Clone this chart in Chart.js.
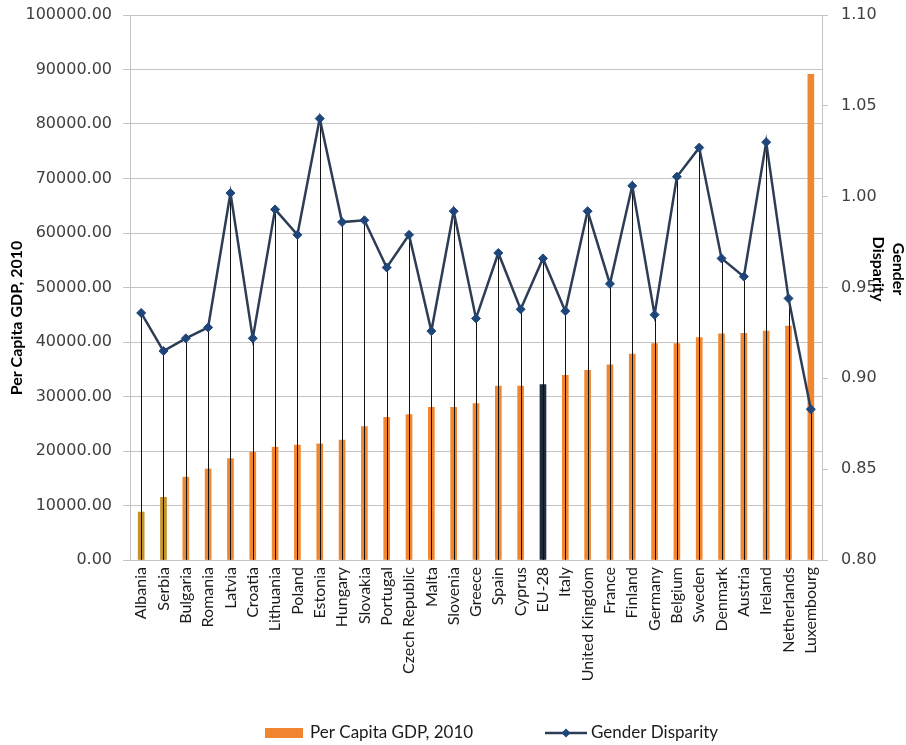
<!DOCTYPE html>
<html>
<head>
<meta charset="utf-8">
<script src="https://cdn.jsdelivr.net/npm/chart.js@4"></script>
<style>
  html, body { margin: 0; padding: 0; background: #ffffff; }
  #wrap { width: 906px; height: 745px; }
</style>
</head>
<body>
<div id="wrap"><canvas id="c" width="906" height="745"></canvas></div>
<script>
// Countries ordered by per capita GDP, 2010
const categories = [
  'Albania', 'Serbia', 'Bulgaria', 'Romania', 'Latvia', 'Croatia', 'Lithuania',
  'Poland', 'Estonia', 'Hungary', 'Slovakia', 'Portugal', 'Czech Republic', 'Malta',
  'Slovenia', 'Greece', 'Spain', 'Cyprus', 'EU-28', 'Italy', 'United Kingdom',
  'France', 'Finland', 'Germany', 'Belgium', 'Sweden', 'Denmark', 'Austria',
  'Ireland', 'Netherlands', 'Luxembourg'
];

// Per capita GDP, 2010 (left axis)
const gdpPerCapita = [
  8800, 11500, 15200, 16700, 18600, 19800, 20700,
  21100, 21300, 22000, 24500, 26200, 26700, 28000,
  28000, 28700, 31900, 31900, 32200, 33900, 34800,
  35800, 37800, 39700, 39700, 40800, 41500, 41600,
  42000, 42900, 89100
];

// Gender disparity index (right axis)
const genderDisparity = [
  0.936, 0.915, 0.922, 0.928, 1.002, 0.922, 0.993,
  0.979, 1.043, 0.986, 0.987, 0.961, 0.979, 0.926,
  0.992, 0.933, 0.969, 0.938, 0.966, 0.937, 0.992,
  0.952, 1.006, 0.935, 1.011, 1.027, 0.966, 0.956,
  1.030, 0.944, 0.883
];

// Countries outside the EU and the EU aggregate get their own bar colours
const nonMembers = ['Albania', 'Serbia'];
const aggregate = 'EU-28';

// Axis ranges
const gdpAxis = { min: 0, max: 100000, step: 10000 };
const disparityAxis = { min: 0.80, max: 1.10, step: 0.05 };

const seriesNames = ['Per Capita GDP, 2010', 'Gender Disparity'];
const axisTitles = ['Per Capita GDP, 2010', ['Gender', 'Disparity']];

const ORANGE = '#F0862F';
const OLIVE = '#C3922B';
const NAVY = '#1E2B3C';
const LINE = '#2C3D55';
const MARKER = '#1F467A';
const GRID = '#C4C4C4';
const TEXT_FONT = 'Lato, "Open Sans", sans-serif';
const NUM_FONT = '"DejaVu Sans", Verdana, sans-serif';

const barColours = categories.map(c =>
  c === aggregate ? NAVY : (nonMembers.includes(c) ? OLIVE : ORANGE));

// Thin vertical lines from every marker down to the category axis
const dropLines = {
  id: 'dropLines',
  beforeDatasetDraw(chart, args) {
    if (args.index !== 1) return;
    const { ctx, chartArea } = chart;
    const meta = chart.getDatasetMeta(1);
    ctx.save();
    ctx.strokeStyle = '#111111';
    ctx.lineWidth = 1;
    ctx.beginPath();
    meta.data.forEach(pt => {
      const x = Math.round(pt.x) + 0.5;
      ctx.moveTo(x, pt.y);
      ctx.lineTo(x, chartArea.bottom);
    });
    ctx.stroke();
    ctx.restore();
  }
};

// Axis titles and the legend row
const decorations = {
  id: 'decorations',
  afterDraw(chart) {
    const { ctx, chartArea } = chart;
    ctx.save();
    ctx.fillStyle = '#000000';
    ctx.font = 'bold 16px ' + TEXT_FONT;
    ctx.textAlign = 'center';
    ctx.textBaseline = 'middle';

    // left title, reading bottom to top
    ctx.save();
    ctx.translate(17, 318);
    ctx.rotate(-Math.PI / 2);
    ctx.fillText(axisTitles[0], 0, 0);
    ctx.restore();

    // right title, reading top to bottom, two lines
    ctx.save();
    ctx.translate(chartArea.right + 76, 269);
    ctx.rotate(Math.PI / 2);
    axisTitles[1].forEach((t, i) => ctx.fillText(t, 0, i * 20));
    ctx.restore();

    // legend
    const y = 733;
    ctx.font = '17px ' + TEXT_FONT;
    ctx.textAlign = 'left';
    let x = 265;
    ctx.fillStyle = ORANGE;
    ctx.fillRect(x, y - 5, 38, 10);
    x += 45;
    ctx.fillStyle = '#1a1a1a';
    ctx.fillText(seriesNames[0], x, y);
    x = 545;
    ctx.strokeStyle = LINE;
    ctx.lineWidth = 2.5;
    ctx.beginPath();
    ctx.moveTo(x, y);
    ctx.lineTo(x + 42, y);
    ctx.stroke();
    ctx.fillStyle = MARKER;
    ctx.beginPath();
    ctx.moveTo(x + 21, y - 4.5);
    ctx.lineTo(x + 25.5, y);
    ctx.lineTo(x + 21, y + 4.5);
    ctx.lineTo(x + 16.5, y);
    ctx.closePath();
    ctx.fill();
    ctx.fillStyle = '#1a1a1a';
    ctx.fillText(seriesNames[1], x + 46, y);
    ctx.restore();
  }
};

new Chart(document.getElementById('c'), {
  type: 'bar',
  data: {
    labels: categories,
    datasets: [
      {
        type: 'bar',
        label: seriesNames[0],
        data: gdpPerCapita,
        yAxisID: 'y',
        backgroundColor: barColours,
        borderWidth: 0,
        barThickness: 6,
        order: 1
      },
      {
        type: 'line',
        label: seriesNames[1],
        data: genderDisparity,
        yAxisID: 'y1',
        borderColor: LINE,
        borderWidth: 2.5,
        tension: 0,
        pointStyle: 'rectRot',
        pointRadius: 4.5,
        pointBackgroundColor: MARKER,
        pointBorderColor: MARKER,
        pointBorderWidth: 1,
        order: 0
      }
    ]
  },
  options: {
    responsive: false,
    animation: false,
    layout: { padding: { top: 15, bottom: 45, left: 0, right: 0 } },
    plugins: { legend: { display: false }, tooltip: { enabled: false } },
    scales: {
      x: {
        offset: true,
        grid: { display: false, drawTicks: false },
        border: { display: true, color: GRID, width: 1 },
        ticks: {
          autoSkip: false,
          minRotation: 90,
          maxRotation: 90,
          padding: 7,
          color: '#1a1a1a',
          font: { family: TEXT_FONT, size: 16 }
        },
        afterFit(s) { s.height = 140; }
      },
      y: {
        position: 'left',
        min: gdpAxis.min,
        max: gdpAxis.max,
        // long tick slot keeps labels clear of the axis; only the 7px next to the axis is drawn
        grid: {
          color: GRID, tickColor: GRID, drawTicks: true, tickLength: 18,
          tickBorderDash: [7, 40], tickBorderDashOffset: 36
        },
        border: { display: true, color: GRID },
        ticks: {
          stepSize: gdpAxis.step,
          padding: 0,
          color: '#404040',
          font: { family: NUM_FONT, size: 16 },
          callback: v => Number(v).toFixed(2)
        },
        afterFit(s) { s.width = 130; }
      },
      y1: {
        position: 'right',
        min: disparityAxis.min,
        max: disparityAxis.max,
        grid: {
          drawOnChartArea: false, color: GRID, tickColor: GRID, tickLength: 19,
          tickBorderDash: [5, 40]
        },
        border: { display: true, color: GRID },
        ticks: {
          stepSize: disparityAxis.step,
          padding: 0,
          color: '#404040',
          font: { family: NUM_FONT, size: 16 },
          callback: v => Number(v).toFixed(2)
        },
        afterFit(s) { s.width = 84; }
      }
    }
  },
  plugins: [dropLines, decorations]
});
</script>
</body>
</html>
